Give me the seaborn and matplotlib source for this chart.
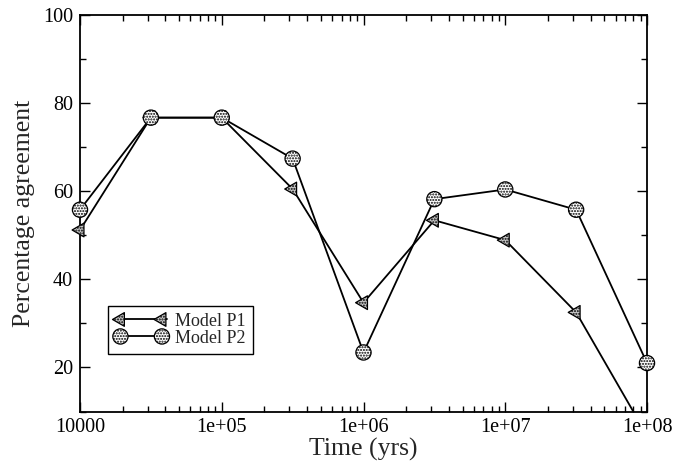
import matplotlib
matplotlib.use("Agg")
import matplotlib.pyplot as plt
import seaborn as sns
import pandas as pd
from matplotlib.ticker import FixedLocator, FixedFormatter, LogLocator, MultipleLocator, NullFormatter
from matplotlib.lines import Line2D
from matplotlib.legend_handler import HandlerTuple
from matplotlib.transforms import Bbox, TransformedBbox
from matplotlib.path import Path
from matplotlib.markers import MarkerStyle

# ---- data ----
time_yrs = [1e4, 31623, 1e5, 316228, 1e6, 3162278, 1e7, 31622777, 1e8]
model_p1 = [51.2, 76.7, 76.7, 60.5, 34.7, 53.4, 48.9, 32.5, 4.6]
model_p2 = [55.8, 76.7, 76.7, 67.4, 23.4, 58.2, 60.4, 55.8, 21.0]
series_names = ["Model P1", "Model P2"]
x_tick_values = [1e4, 1e5, 1e6, 1e7, 1e8]
x_tick_labels = ["10000", "1e+05", "1e+06", "1e+07", "1e+08"]
y_tick_values = [20, 40, 60, 80, 100]

df = pd.DataFrame({"time": time_yrs * 2,
                   "value": model_p1 + model_p2,
                   "model": [series_names[0]] * len(time_yrs) + [series_names[1]] * len(time_yrs)})

sns.set_theme(style="white")
plt.rcParams["font.family"] = ["Liberation Serif", "DejaVu Serif"]

fig = plt.figure(figsize=(6.91, 4.63), dpi=100)
ax = fig.add_axes([80 / 691, 1 - 411.5 / 463, (647 - 80) / 691, (411.5 - 15) / 463])

# left-pointing triangle inscribed in the circle marker
tri_path = Path([(-1.0, 0.0), (0.5, 0.866), (0.5, -0.866), (-1.0, 0.0)],
                [Path.MOVETO, Path.LINETO, Path.LINETO, Path.CLOSEPOLY])
markers = {"Model P1": MarkerStyle(tri_path), "Model P2": "o"}
marker_size = {"Model P1": 130, "Model P2": 120}
hatch_fc = {"Model P1": "#c8c8c8", "Model P2": "white"}
handles = []
for name in series_names:
    sub = df[df["model"] == name]
    sns.lineplot(data=sub, x="time", y="value", ax=ax, color="black", linewidth=1.3,
                 legend=False, zorder=2)
    sns.scatterplot(data=sub, x="time", y="value", ax=ax, marker=markers[name],
                    s=marker_size[name], facecolor=hatch_fc[name], edgecolor="black",
                    linewidth=0.9, legend=False, zorder=3)
    coll = ax.collections[-1]
    coll.set_hatch("......")
    coll.set_clip_box(TransformedBbox(Bbox([[-0.05, 0.0], [1.05, 1.05]]), ax.transAxes))
    lh = Line2D([], [], color="black", linewidth=1.3)
    handles.append((lh, coll))

ax.set_xscale("log")
ax.set_xlim(1e4, 1e8)
ax.set_ylim(10, 100)

ax.xaxis.set_major_locator(FixedLocator(x_tick_values))
ax.xaxis.set_major_formatter(FixedFormatter(x_tick_labels))
ax.xaxis.set_minor_locator(LogLocator(base=10, subs=range(2, 10)))
ax.xaxis.set_minor_formatter(NullFormatter())
ax.yaxis.set_major_locator(FixedLocator(y_tick_values))
ax.yaxis.set_minor_locator(MultipleLocator(10))

ax.tick_params(which="both", direction="in", top=True, right=True, bottom=True, left=True,
               colors="black", labelsize=14.5, width=1.0)
ax.tick_params(which="major", length=7.5, pad=5)
ax.tick_params(which="minor", length=4)

for sp in ax.spines.values():
    sp.set_color("black")
    sp.set_linewidth(1.3)

ax.set_xlabel("Time (yrs)", fontsize=18.5, labelpad=0)
ax.set_ylabel("Percentage agreement", fontsize=18.5, labelpad=6)

leg = ax.legend(handles, series_names, handler_map={tuple: HandlerTuple(ndivide=1, pad=0)},
                loc="lower left", bbox_to_anchor=(0.049, 0.145), fontsize=13,
                frameon=True, fancybox=False, edgecolor="black", framealpha=1,
                scatterpoints=2, scatteryoffsets=[0.5], handlelength=2.9,
                handletextpad=0.45, borderpad=0.4, labelspacing=0.0, borderaxespad=0)
leg.get_frame().set_linewidth(1.0)

fig.savefig("out.png", dpi=100)
